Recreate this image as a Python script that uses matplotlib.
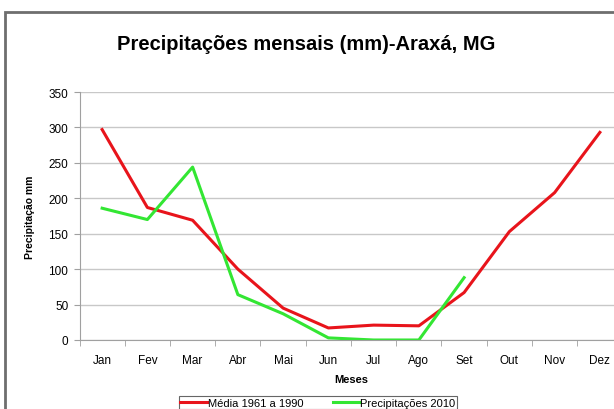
import matplotlib
matplotlib.use("Agg")
import matplotlib.pyplot as plt
from matplotlib.patches import Rectangle

plt.rcParams["font.family"] = ["Liberation Sans", "DejaVu Sans"]

meses = ["Jan", "Fev", "Mar", "Abr", "Mai", "Jun", "Jul", "Ago", "Set", "Out", "Nov", "Dez"]
media_1961_1990 = [297, 187, 169, 100, 45, 17, 21, 20, 67, 153, 208, 293]
precip_2010 = [186, 170, 244, 64, 37, 3, 0, 0, 88]

fig = plt.figure(figsize=(6.14, 4.10), dpi=100)

# chart frame (cropped Excel-style border)
fig.patches.append(Rectangle((4.5 / 614, -0.1), 1.2, 1 - 12.5 / 410 + 0.1,
                             transform=fig.transFigure, fill=False,
                             edgecolor="#6e6e6e", lw=2.0))

ax = fig.add_axes([79.5 / 614, 1 - 341 / 410, 543 / 614, 248 / 410])
x = list(range(len(meses)))
ax.plot(x, media_1961_1990, color="#e8141b", lw=2.2, label="Média 1961 a 1990")
ax.plot(x[:len(precip_2010)], precip_2010, color="#33e633", lw=2.2,
        label="Precipitações 2010")

ax.set_xlim(-0.5, len(meses) - 0.5)
ax.set_ylim(0, 350)
ax.set_yticks(range(0, 351, 50))
ax.set_xticks(x)
ax.set_xticklabels(meses)
ax.set_xticks([i + 0.5 for i in range(-1, len(meses))], minor=True)
ax.tick_params(axis="x", which="major", length=0, pad=10, labelsize=8.5)
ax.tick_params(axis="x", which="minor", length=4, color="#a0a0a0")
ax.tick_params(axis="y", length=4, color="#a0a0a0", labelsize=8.5, pad=4)
ax.grid(axis="y", color="#c8c8c8", lw=1.0)
ax.set_axisbelow(True)
for s in ["top", "right"]:
    ax.spines[s].set_visible(False)
for s in ["left", "bottom"]:
    ax.spines[s].set_color("#a0a0a0")

ax.set_ylabel("Precipitação mm", fontsize=7.5, fontweight="bold", labelpad=10)
ax.set_xlabel("Meses", fontsize=8, fontweight="bold", labelpad=6)

fig.text(306 / 614, 1 - 45 / 410, "Precipitações mensais (mm)-Araxá, MG",
         ha="center", va="center", fontsize=14.5, fontweight="bold")

leg = fig.legend(loc="upper center", bbox_to_anchor=(318 / 614, 1 - 397 / 410),
                 ncol=2, fontsize=8, frameon=True, fancybox=False,
                 handlelength=2.4, handletextpad=0.1, columnspacing=2.6,
                 borderpad=0.15, borderaxespad=0)
leg.get_frame().set_edgecolor("#404040")
leg.get_frame().set_linewidth(0.8)

fig.savefig("out.png", dpi=100)
